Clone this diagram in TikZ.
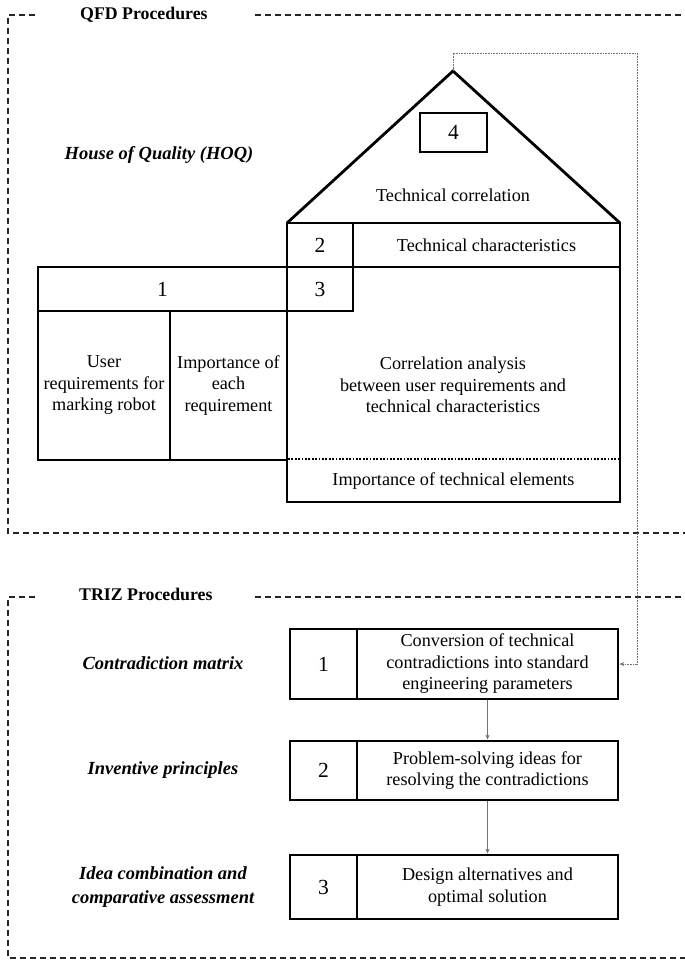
\documentclass[tikz,border=0pt]{standalone}
\usepackage{fontspec}
\setmainfont{Liberation Serif}
\usetikzlibrary{arrows.meta}
\begin{document}
\begin{tikzpicture}[x=1pt,y=-1pt,
  frame/.style={line width=1.4pt, dash pattern=on 6pt off 4pt, color=black!85},
  cell/.style={draw, line width=2.8pt, inner sep=0pt, align=center, font=\fontsize{18.2}{21.5}\selectfont},
  num/.style={cell, font=\fontsize{21.5}{24}\selectfont},
  body/.style={align=center, inner sep=0pt, font=\fontsize{18.2}{21.5}\selectfont},
  title/.style={anchor=west, inner sep=0pt, font=\fontsize{17.8}{21}\selectfont\bfseries},
  side/.style={align=center, inner sep=0pt, font=\fontsize{18.5}{24}\selectfont\bfseries\itshape},
  conn/.style={draw=black!55, line width=0.9pt, dash pattern=on 1pt off 0.6pt, -{Stealth[length=5pt,width=4pt,fill=black]}},
  flow/.style={draw=black!55, line width=0.9pt, -{Stealth[length=5pt,width=4pt,fill=black]}},
  heavy/.style={line width=2.8pt, line join=miter}
]
\useasboundingbox (0,0) rectangle (685,961);

% ---------- frames ----------
\draw[frame] (35,15) -- (8,15) -- (8,533) -- (685,533);
\draw[frame] (255,15) -- (685,15);
\node[title] (qfdt) at (80,15) {QFD Procedures};

\draw[frame] (35,597) -- (8,597) -- (8,958) -- (685,958);
\draw[frame] (255,597) -- (685,597);
\node[title] (trizt) at (79,594) {TRIZ Procedures};

% ---------- House of Quality ----------
\node[side] (hoq) at (159,155) {House of Quality (HOQ)};

\coordinate (rl) at (287,223);
\coordinate (apex) at (453,71);
\coordinate (rr) at (620,223);
\draw[heavy] (rl) -- (apex) -- (rr);

\node[num, minimum width=67pt, minimum height=39pt] (c4) at (453.5,132.5) {4};
\node[body] (tcorr) at (453,195) {Technical correlation};

% main region
\node[cell, minimum width=333pt, minimum height=235pt] (main) at (453.5,384.5) {};
\node[num, minimum width=66pt, minimum height=44pt] (c2) at (320,245) {2};
\node[cell, minimum width=267pt, minimum height=44pt] (tchar) at (486.5,245) {Technical characteristics};
\node[num, minimum width=66pt, minimum height=44pt] (c3) at (320,289) {3};
\node[num, minimum width=249pt, minimum height=44pt] (c1) at (162.5,289) {1};
\node[cell, minimum width=132pt, minimum height=149pt] (ureq) at (104,385.5) {User\\requirements for\\marking robot};
\node[cell, minimum width=117pt, minimum height=149pt] (imp) at (228.5,385.5) {Importance of\\each\\requirement};

\node[body] (corr) at (453,385) {Correlation analysis\\between user requirements and\\technical characteristics};
\coordinate (dl) at (288,459);
\coordinate (dr) at (619,459);
\draw[line width=1.8pt, dash pattern=on 1.8pt off 1.6pt] (dl) -- (dr);
\node[body] (timp) at (453.5,481) {Importance of technical elements};

% ---------- TRIZ ----------
\node[side] (cm) at (163,663) {Contradiction matrix};
\node[side] (ip) at (163,770) {Inventive principles};
\node[side] (ic) at (163,887) {Idea combination and\\comparative assessment};

\node[num, minimum width=67pt, minimum height=70pt] (t1n) at (323.5,664) {1};
\node[cell, minimum width=261pt, minimum height=70pt] (t1b) at (487.5,664) {Conversion of technical\\contradictions into standard\\engineering parameters};

\node[num, minimum width=67pt, minimum height=59pt] (t2n) at (323.5,770.5) {2};
\node[cell, minimum width=261pt, minimum height=59pt] (t2b) at (487.5,770.5) {Problem-solving ideas for\\resolving the contradictions};

\node[num, minimum width=67pt, minimum height=64pt] (t3n) at (323.5,887) {3};
\node[cell, minimum width=261pt, minimum height=64pt] (t3b) at (487.5,887) {Design alternatives and\\optimal solution};

% ---------- connectors ----------
\coordinate (turn) at (637,53);
\draw[conn] (apex) |- (turn) |- (t1b.east);
\draw[flow] (t1b.south) -- (t2b.north);
\draw[flow] (t2b.south) -- (t3b.north);
\end{tikzpicture}
\end{document}
